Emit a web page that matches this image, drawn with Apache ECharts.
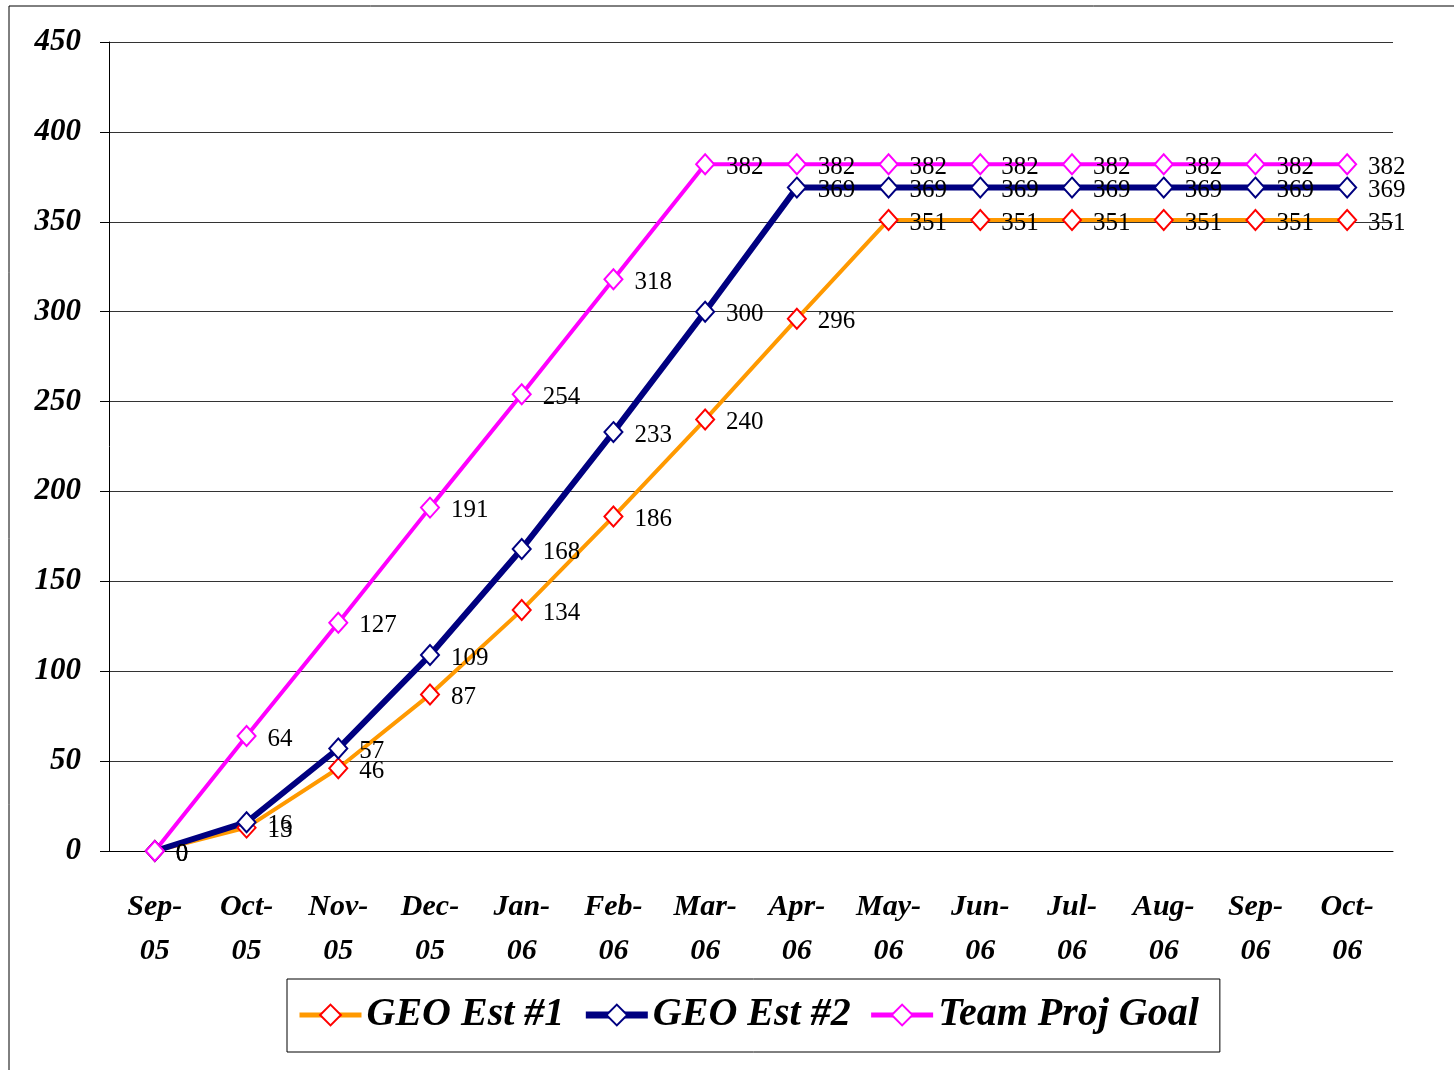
<!DOCTYPE html>
<html>
<head>
<meta charset="utf-8">
<script src="https://cdn.jsdelivr.net/npm/echarts@6/dist/echarts.min.js"></script>
<style>
  html, body { margin: 0; padding: 0; background: #fff; }
  #chart { width: 1454px; height: 1070px; }
</style>
</head>
<body>
<div id="chart"></div>
<script>
const months = ['Sep-\n05', 'Oct-\n05', 'Nov-\n05', 'Dec-\n05', 'Jan-\n06', 'Feb-\n06', 'Mar-\n06',
    'Apr-\n06', 'May-\n06', 'Jun-\n06', 'Jul-\n06', 'Aug-\n06', 'Sep-\n06', 'Oct-\n06'];
const geoEst1 = [0, 13, 46, 87, 134, 186, 240, 296, 351, 351, 351, 351, 351, 351];
const geoEst2 = [0, 16, 57, 109, 168, 233, 300, 369, 369, 369, 369, 369, 369, 369];
const teamGoal = [0, 64, 127, 191, 254, 318, 382, 382, 382, 382, 382, 382, 382, 382];

const serif = '"Liberation Serif", "Times New Roman", serif';

function makeSeries(name, data, lineColor, lineWidth, markColor) {
    return {
        name: name,
        type: 'line',
        data: data,
        symbol: 'diamond',
        symbolSize: [18, 20],
        showAllSymbol: true,
        lineStyle: {color: lineColor, width: lineWidth},
        itemStyle: {color: '#fff', borderColor: markColor, borderWidth: 2},
        label: {
            show: true,
            position: 'right',
            distance: 11,
            offset: [0, 3],
            color: '#000',
            fontFamily: serif,
            fontSize: 25
        }
    };
}

const chart = echarts.init(document.getElementById('chart'));
chart.setOption({
    animation: false,
    graphic: [{
        type: 'rect',
        shape: {x: 9, y: 6, width: 1500, height: 1100},
        style: {fill: 'none', stroke: '#000', lineWidth: 1}
    }],
    grid: {left: 109, right: 61, top: 42, bottom: 219},
    legend: {
        left: 287,
        top: 979,
        padding: [16, 21, 17, 10],
        itemGap: 18,
        itemWidth: 62,
        itemHeight: 26,
        borderColor: '#000',
        borderWidth: 1,
        data: [
            {name: 'GEO Est #1', lineStyle: {width: 5}},
            {name: 'GEO Est #2', lineStyle: {width: 7}},
            {name: 'Team Proj Goal', lineStyle: {width: 5}}
        ],
        textStyle: {
            fontFamily: serif,
            fontSize: 40,
            fontWeight: 'bold',
            fontStyle: 'italic',
            color: '#000'
        }
    },
    xAxis: {
        type: 'category',
        data: months,
        boundaryGap: true,
        axisLine: {lineStyle: {color: '#000', width: 1}},
        axisTick: {length: 10, lineStyle: {color: '#000'}},
        axisLabel: {
            margin: 34,
            interval: 0,
            fontFamily: serif,
            fontSize: 30,
            lineHeight: 44,
            fontWeight: 'bold',
            fontStyle: 'italic',
            color: '#000'
        }
    },
    yAxis: {
        type: 'value',
        min: 0,
        max: 450,
        interval: 50,
        axisLine: {show: true, lineStyle: {color: '#000', width: 1}},
        axisTick: {show: true, length: 9, lineStyle: {color: '#000'}},
        splitLine: {lineStyle: {color: '#333', width: 1}},
        axisLabel: {
            margin: 28,
            fontFamily: serif,
            fontSize: 31,
            fontWeight: 'bold',
            fontStyle: 'italic',
            color: '#000'
        }
    },
    series: [
        makeSeries('GEO Est #1', geoEst1, '#FF9900', 4, '#FF0000'),
        makeSeries('GEO Est #2', geoEst2, '#000080', 6, '#000080'),
        makeSeries('Team Proj Goal', teamGoal, '#FF00FF', 4, '#FF00FF')
    ]
});
</script>
</body>
</html>
